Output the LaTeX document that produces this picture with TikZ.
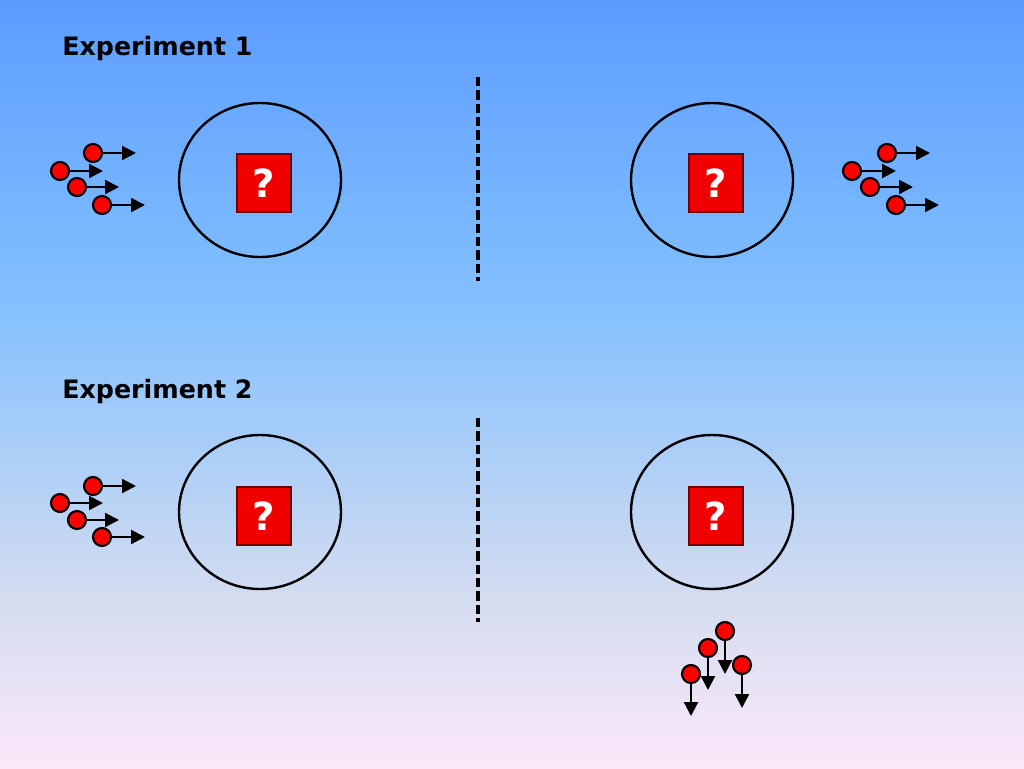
\documentclass[tikz,border=0pt]{standalone}
\usepackage{fontspec}
\setmainfont{DejaVu Sans}
\usetikzlibrary{arrows.meta,shapes.geometric}
\definecolor{skytop}{RGB}{92,156,255}
\definecolor{skymid}{RGB}{130,192,255}
\definecolor{skylow}{RGB}{212,220,240}
\definecolor{skyfoot}{RGB}{252,232,250}
\definecolor{boxred}{RGB}{240,0,0}
\definecolor{boxedge}{RGB}{110,0,0}
\pgfdeclareverticalshading{sky}{100bp}{color(0bp)=(skyfoot); color(25bp)=(skyfoot); color(36bp)=(skylow); color(55.5bp)=(skymid); color(75bp)=(skytop); color(100bp)=(skytop)}
\begin{document}
\begin{tikzpicture}[x=0.75pt,y=0.75pt,yscale=-1,xscale=1,
  cell/.style={draw,ellipse,line width=1.8pt,minimum width=121.5pt,minimum height=115.5pt,inner sep=0pt},
  qbox/.style={draw=boxedge,fill=boxred,line width=1.3pt,minimum width=40pt,minimum height=44pt,inner sep=0pt,
    text=white,font=\fontsize{29}{30}\selectfont\bfseries},
  particle/.style={circle,draw,fill=red,line width=1.6pt,minimum size=13.5pt,inner sep=0pt},
  shot/.style={line width=1.7pt,-{Triangle[length=10.5pt,width=10.5pt]}},
  title/.style={anchor=base west,inner sep=0pt,font=\fontsize{19}{22}\selectfont\bfseries},
  divider/.style={line width=3pt,dash pattern=on 7pt off 3pt}]
%set diagram to 1024 x 768
\useasboundingbox (0,0) rectangle (1024,768);
%Background
\shade [shading=sky] (0,0) rectangle (1024,768);

% Text Node
\node [title] (t1) at (62,55) {Experiment 1};
% Text Node
\node [title] (t2) at (62,398) {Experiment 2};

%Dashed dividers
\coordinate (d1a) at (478,77);
\coordinate (d1b) at (478,281);
\coordinate (d2a) at (478,418);
\coordinate (d2b) at (478,622);
\draw [divider] (d1a) -- (d1b);
\draw [divider] (d2a) -- (d2b);

%Cells with unknown box
\node [cell] (c1l) at (260,180) {};
\node [cell] (c1r) at (712,180) {};
\node [cell] (c2l) at (260,512) {};
\node [cell] (c2r) at (712,512) {};
\node [qbox] (q1l) at (264,183) {?};
\node [qbox] (q1r) at (716,183) {?};
\node [qbox] (q2l) at (264,516) {?};
\node [qbox] (q2r) at (716,516) {?};

%Incoming particles, experiment 1
\coordinate (a1e) at (136,153);
\coordinate (a2e) at (103,171);
\coordinate (a3e) at (119,187);
\coordinate (a4e) at (145,205);
\node [particle] (a1) at (93,153) {};
\node [particle] (a2) at (60,171) {};
\node [particle] (a3) at (77,187) {};
\node [particle] (a4) at (102,205) {};
\draw [shot] (a1) -- (a1e);
\draw [shot] (a2) -- (a2e);
\draw [shot] (a3) -- (a3e);
\draw [shot] (a4) -- (a4e);

%Outgoing particles, experiment 1
\coordinate (b1e) at (930,153);
\coordinate (b2e) at (896,171);
\coordinate (b3e) at (913,187);
\coordinate (b4e) at (939,205);
\node [particle] (b1) at (887,153) {};
\node [particle] (b2) at (852,171) {};
\node [particle] (b3) at (870,187) {};
\node [particle] (b4) at (896,205) {};
\draw [shot] (b1) -- (b1e);
\draw [shot] (b2) -- (b2e);
\draw [shot] (b3) -- (b3e);
\draw [shot] (b4) -- (b4e);

%Incoming particles, experiment 2
\coordinate (e1e) at (136,486);
\coordinate (e2e) at (103,503);
\coordinate (e3e) at (119,520);
\coordinate (e4e) at (145,537);
\node [particle] (e1) at (93,486) {};
\node [particle] (e2) at (60,503) {};
\node [particle] (e3) at (77,520) {};
\node [particle] (e4) at (102,537) {};
\draw [shot] (e1) -- (e1e);
\draw [shot] (e2) -- (e2e);
\draw [shot] (e3) -- (e3e);
\draw [shot] (e4) -- (e4e);

%Outgoing particles, experiment 2 (falling)
\coordinate (f1e) at (725,674);
\coordinate (f2e) at (708,690);
\coordinate (f3e) at (691,716);
\coordinate (f4e) at (742,708);
\node [particle] (f1) at (725,631) {};
\node [particle] (f2) at (708,648) {};
\node [particle] (f3) at (691,674) {};
\node [particle] (f4) at (742,665) {};
\draw [shot] (f1) -- (f1e);
\draw [shot] (f2) -- (f2e);
\draw [shot] (f3) -- (f3e);
\draw [shot] (f4) -- (f4e);

\end{tikzpicture}
\end{document}
